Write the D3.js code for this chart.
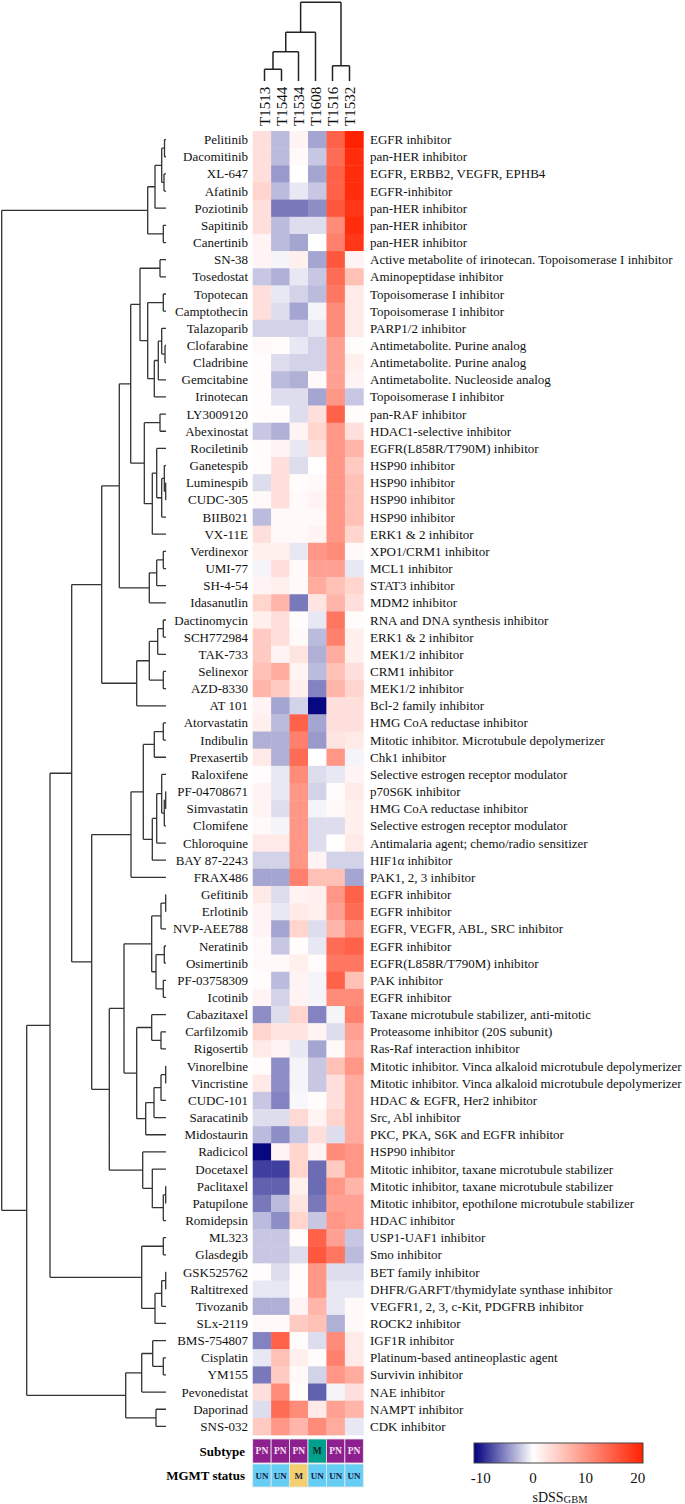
<!DOCTYPE html>
<html><head><meta charset="utf-8">
<script src="https://cdn.jsdelivr.net/npm/d3@7"></script>
<style>body{margin:0;background:#fff} text{font-family:"Liberation Serif","Times New Roman",serif}</style>
</head><body><svg id="c" width="685" height="1504"></svg>
<script>
const samples = ["T1513","T1544","T1534","T1608","T1516","T1532"];
const drugs = ["Pelitinib","Dacomitinib","XL-647","Afatinib","Poziotinib","Sapitinib","Canertinib","SN-38","Tosedostat","Topotecan","Camptothecin","Talazoparib","Clofarabine","Cladribine","Gemcitabine","Irinotecan","LY3009120","Abexinostat","Rociletinib","Ganetespib","Luminespib","CUDC-305","BIIB021","VX-11E","Verdinexor","UMI-77","SH-4-54","Idasanutlin","Dactinomycin","SCH772984","TAK-733","Selinexor","AZD-8330","AT 101","Atorvastatin","Indibulin","Prexasertib","Raloxifene","PF-04708671","Simvastatin","Clomifene","Chloroquine","BAY 87-2243","FRAX486","Gefitinib","Erlotinib","NVP-AEE788","Neratinib","Osimertinib","PF-03758309","Icotinib","Cabazitaxel","Carfilzomib","Rigosertib","Vinorelbine","Vincristine","CUDC-101","Saracatinib","Midostaurin","Radicicol","Docetaxel","Paclitaxel","Patupilone","Romidepsin","ML323","Glasdegib","GSK525762","Raltitrexed","Tivozanib","SLx-2119","BMS-754807","Cisplatin","YM155","Pevonedistat","Daporinad","SNS-032"];
const mechanisms = ["EGFR inhibitor","pan-HER inhibitor","EGFR, ERBB2, VEGFR, EPHB4","EGFR-inhibitor","pan-HER inhibitor","pan-HER inhibitor","pan-HER inhibitor","Active metabolite of irinotecan. Topoisomerase I inhibitor","Aminopeptidase inhibitor","Topoisomerase I inhibitor","Topoisomerase I inhibitor","PARP1/2 inhibitor","Antimetabolite. Purine analog","Antimetabolite. Purine analog","Antimetabolite. Nucleoside analog","Topoisomerase I inhibitor","pan-RAF inhibitor","HDAC1-selective inhibitor","EGFR(L858R/T790M) inhibitor","HSP90 inhibitor","HSP90 inhibitor","HSP90 inhibitor","HSP90 inhibitor","ERK1 & 2 inhibitor","XPO1/CRM1 inhibitor","MCL1 inhibitor","STAT3 inhibitor","MDM2 inhibitor","RNA and DNA synthesis inhibitor","ERK1 & 2 inhibitor","MEK1/2 inhibitor","CRM1 inhibitor","MEK1/2 inhibitor","Bcl-2 family inhibitor","HMG CoA reductase inhibitor","Mitotic inhibitor. Microtubule depolymerizer","Chk1 inhibitor","Selective estrogen receptor modulator","p70S6K inhibitor","HMG CoA reductase inhibitor","Selective estrogen receptor modulator","Antimalaria agent; chemo/radio sensitizer","HIF1α inhibitor","PAK1, 2, 3 inhibitor","EGFR inhibitor","EGFR inhibitor","EGFR, VEGFR, ABL, SRC inhibitor","EGFR inhibitor","EGFR(L858R/T790M) inhibitor","PAK inhibitor","EGFR inhibitor","Taxane microtubule stabilizer, anti-mitotic","Proteasome inhibitor (20S subunit)","Ras-Raf interaction inhibitor","Mitotic inhibitor. Vinca alkaloid microtubule depolymerizer","Mitotic inhibitor. Vinca alkaloid microtubule depolymerizer","HDAC & EGFR, Her2 inhibitor","Src, Abl inhibitor","PKC, PKA, S6K and EGFR inhibitor","HSP90 inhibitor","Mitotic inhibitor, taxane microtubule stabilizer","Mitotic inhibitor, taxane microtubule stabilizer","Mitotic inhibitor, epothilone microtubule stabilizer","HDAC inhibitor","USP1-UAF1 inhibitor","Smo inhibitor","BET family inhibitor","DHFR/GARFT/thymidylate synthase inhibitor","VEGFR1, 2, 3, c-Kit, PDGFRB inhibitor","ROCK2 inhibitor","IGF1R inhibitor","Platinum-based antineoplastic agent","Survivin inhibitor","NAE inhibitor","NAMPT inhibitor","CDK inhibitor"];

// sDSS values per sample (row order = drugs)
const vT1513 = [3,3,3,4,3,3,1, 1,-2.5,3,3,-2,0.5,0.3,0.3,0.3, 0.3,-2.5,0.3,0.3,-1.5,0.5,-3,3, 1.5,-0.5,1,4, 1.5,5,5,6,7,1, 1.5,-3.5,2,0.3,1,1,0.5,2,-2,-4, 2,1,1,0.5,0.5,0.3,1, -5,4,2,0.3,2,-2.5,-1.5,-3, -11,-8.5,-7,-6,-3, -2.5,-2.5,0.3,-1,-3.5,0.5, -5.5,-1,-6,3,-1.5,5];
const vT1544 = [-3,-3,-4.5,-3,-6,-3,-3, -0.5,-3.5,-1,-1.5,-2,0.3,-1.5,-3,-1.5, 0.3,-3.5,1,3,3,3,0.5,0.5, 1.5,3,1.5,7, 3,3,1,8,5,-4, -3,-3.5,-3.5,-1,-1,-1.5,-0.5,2,-2,-4, -1.5,-1,-4,-2.5,0.5,-3,-2, -1.5,2.5,1,-5,-5,-5.5,-1.5,-5, 1,-8.5,-7,-3,-5, -2.5,-2.5,-1.5,-1,-3.5,0.5, 15,6,5,11,14,10];
const vT1534 = [1,0.5,0,-1,-6,-1.5,-4, 1.5,-1,-2,-4,-2,-1,-2,-3.5,-1.5, -1.5,1,-1,-1.5,0.3,0.5,0.5,0.5, -1,0.5,0.5,-6, 0.3,0.5,2.5,1,1.5,-2, 15,12,14,11,10,10,10,10,10,12, 1,2,4,0.3,1.5,1,1, 4,2.5,-1,-0.5,-0.5,-0.3,3.5,-2.5, 4,4,1.5,2.5,4, 0.3,-1.5,0.3,0.3,1,5, 0.3,1.5,0.5,0.3,11,7];
const vT1608 = [-4,-2.5,-4,-2.5,-5,-1.5,0, -4,-2.5,-3,-0.5,-1,-2,-2,0.5,-4, 3,4,3,0,0.5,1,0.5,1, 10,9,8,2.5, -1,-3,-3.5,-3,-5.5,-11, -4,-4.5,0,-1.5,-2,-0.5,-1.5,-1.5,1,6, 1.5,1.5,-1.5,-1,0.3,-0.5,-0.5, -5.5,1,-4,-2.5,-2.5,0.3,1,3, 1,-6.5,-6.5,-6,-2.5, 15,16,10,10,7,6, -1.5,0.3,-2,-7,2,11];
const vT1516 = [15,14,15,15,16,11,12, 16,14,13,11,11,9,9,9,10, 15,10,10,10,10,10,10,10, 11,9,6,7, 13,12,8,6,7,3, 3,2.5,10,-1,0.3,0.5,-1.5,0,-2,6, 10,9,7,14,13,15,11, -0.5,-1.5,0.5,6,3,3,4,-1.5, 11,5,10,9,10, 9,13,-1.5,-1,-1,-3.5, 11,12,10,-0.5,9,8];
const vT1532 = [21,20,20,20,19,20,19, 1,6,2,2,2,0.3,1.5,1,-2.5, 0.3,3,7,5,6,6,6,4, 0.5,-1,4,3, 0.3,1.5,1.5,3,4,3, 3,2,-0.5,1,2,1.5,1.5,2,-2,-4, 15,14,11,15,13,6,11, 12,9,8,10,8,8,8,8, 10,10,7,9,9, -2.5,-3,-1.5,-1,0.5,0.5, 2,2,8,3,7,-1];

const subtype = ["PN","PN","PN","M","PN","PN"];
const mgmt = ["UN","UN","M","UN","UN","UN"];
const colorTicks = [-10,0,10,20];

// dendrograms (node value = merge height)
const colTree = "((((T1513,T1544):0.149,T1534):0.372,T1608):0.619,(T1516,T1532):0.194):1";
const rowTree = "(((((Pelitinib,Dacomitinib):1.5,(XL-647,Afatinib):2):4.3,Poziotinib):11,(Sapitinib,Canertinib):2.7):18.3,"
 + "((((((((SN-38,Tosedostat):6,((Topotecan,Camptothecin):2.7,(((Talazoparib,(Clofarabine,Cladribine):1):4.3,Gemcitabine):7.7,Irinotecan):11.7):18.3):26,"
 + "((LY3009120,Abexinostat):6,((Rociletinib,((Ganetespib,(Luminespib,CUDC-305):0.3):1.7,BIIB021):4.3):9.3,VX-11E):13.7):21.7):35.3,"
 + "(((Verdinexor,UMI-77):2.7,SH-4-54):9.3,Idasanutlin):16.7):46.7,"
 + "((((Dactinomycin,SCH772984):2.7,TAK-733):8.3,(Selinexor,AZD-8330):2.7):16.7,AT 101):29.3):64.3,"
 + "(((((Atorvastatin,Indibulin):2.7,Prexasertib):11.7,(((Raloxifene,((PF-04708671,Simvastatin):0.3,Clomifene):1.7):4.3,Chloroquine):9.3,BAY 87-2243):13.7):22.7,FRAX486):35,"
 + "(((((Gefitinib,Erlotinib):0.3,NVP-AEE788):5,((Neratinib,Osimertinib):1.7,(PF-03758309,Icotinib):2.7):10):14.3,"
 + "((Cabazitaxel,(Carfilzomib,Rigosertib):5):14.3,((((Vinorelbine,Vincristine):0.3,CUDC-101):5,Saracatinib):12,Midostaurin):20.3):29.3):42,"
 + "(Radicicol,(Docetaxel,((Paclitaxel,Patupilone):0.3,Romidepsin):2.7):13.7):23.3):56.7):74.3):94.3,"
 + "((ML323,Glasdegib):2.7,(((GSK525762,Raltitrexed):0.3,Tivozanib):4.3,SLx-2119):11):24.3):116,"
 + "(((BMS-754807,(Cisplatin,YM155):2.7):13.3,Pevonedistat):24.3,(Daporinad,SNS-032):10):40.3):139.3):164.3";

const values = [vT1513,vT1544,vT1534,vT1608,vT1516,vT1532];

function parseTree(s){
  let i=0;
  function node(){
    if(s[i]==='('){
      i++; const kids=[node()];
      while(s[i]===','){i++; kids.push(node());}
      i++;
      let h=0;
      if(s[i]===':'){i++; const j=i; while(i<s.length && /[0-9.]/.test(s[i])) i++; h=+s.slice(j,i);}
      return {children:kids,height:h};
    }
    const j=i; while(i<s.length && !/[,():]/.test(s[i])) i++;
    return {name:s.slice(j,i).trim(),height:0};
  }
  return node();
}

const svg = d3.select("#c");
const font = '"Liberation Serif","Times New Roman",serif';

// scales
const x = d3.scaleBand().domain(samples).range([252.7,363.3]);
const y = d3.scaleBand().domain(drugs).range([131,1435]);
const color = d3.scaleLinear().domain([-11.3,0,21]).range(["#00007f","#ffffff","#ff2200"]).clamp(true);

// heatmap
const cells = [];
samples.forEach((s,ci)=>drugs.forEach((d,ri)=>cells.push({s,d,v:values[ci][ri]})));
svg.append("g").selectAll("rect").data(cells).join("rect")
  .attr("x",d=>x(d.s)).attr("y",d=>y(d.d))
  .attr("width",x.bandwidth()+0.4).attr("height",y.bandwidth()+0.4)
  .attr("fill",d=>color(d.v));

// row labels
svg.append("g").selectAll("text").data(drugs).join("text")
  .attr("x",248).attr("y",d=>y(d)+y.bandwidth()/2).attr("dy","0.35em")
  .attr("text-anchor","end").attr("font-size",13).attr("fill","#111").text(d=>d);
svg.append("g").selectAll("text").data(drugs).join("text")
  .attr("x",370).attr("y",d=>y(d)+y.bandwidth()/2).attr("dy","0.35em")
  .attr("font-size",13).attr("fill","#111").text((d,i)=>mechanisms[i]);

// row dendrogram
const rroot = d3.hierarchy(parseTree(rowTree));
const hx = d3.scaleLinear().domain([0,164.3]).range([166,1.7]);
rroot.eachAfter(n=>{ n.pos = n.children ? d3.mean(n.children,c=>c.pos) : y(n.data.name)+y.bandwidth()/2; });
let rp = "";
rroot.each(n=>{
  if(!n.children) return;
  const nx = hx(n.data.height);
  const ys = n.children.map(c=>c.pos);
  rp += `M${nx},${d3.min(ys)}V${d3.max(ys)}`;
  n.children.forEach(c=>{ rp += `M${hx(c.data.height)},${c.pos}H${nx}`; });
});
svg.append("path").attr("d",rp).attr("fill","none").attr("stroke","#333").attr("stroke-width",1.3);

// column dendrogram
const croot = d3.hierarchy(parseTree(colTree));
const cx = d3.scalePoint().domain(samples).range([264.5,349.5]);
const vy = d3.scaleLinear().domain([0,1]).range([81,2.3]);
croot.eachAfter(n=>{ n.pos = n.children ? d3.mean(n.children,c=>c.pos) : cx(n.data.name); });
let cp = "";
croot.each(n=>{
  if(!n.children) return;
  const ny = vy(n.data.height);
  const xs = n.children.map(c=>c.pos);
  cp += `M${d3.min(xs)},${ny}H${d3.max(xs)}`;
  n.children.forEach(c=>{ cp += `M${c.pos},${vy(c.data.height)}V${ny}`; });
});
svg.append("path").attr("d",cp).attr("fill","none").attr("stroke","#222").attr("stroke-width",1.5);

// column labels
svg.append("g").selectAll("text").data(samples).join("text")
  .attr("transform",d=>`translate(${cx(d)},126) rotate(-90)`)
  .attr("dy","0.35em").attr("font-size",15).attr("fill","#111").text(d=>d);

// annotations
const subColor = {PN:"#8e1f8f", M:"#00a08c"};
const subText = {PN:"#f5e0f0", M:"#102020"};
const mgColor = {UN:"#66cdf4", M:"#f4cf70"};
const annY1 = 1439, annH1 = 24, annY2 = 1464, annH2 = 23;
const ga = svg.append("g");
ga.selectAll("rect.s").data(samples).join("rect").attr("class","s")
  .attr("x",d=>x(d)).attr("y",annY1).attr("width",x.bandwidth()).attr("height",annH1)
  .attr("fill",(d,i)=>subColor[subtype[i]]).attr("stroke","#e6e6e6").attr("stroke-width",0.8);
ga.selectAll("text.s").data(samples).join("text").attr("class","s")
  .attr("x",d=>x(d)+x.bandwidth()/2).attr("y",annY1+annH1/2).attr("dy","0.35em")
  .attr("text-anchor","middle").attr("font-size",9.5).attr("font-weight","bold")
  .attr("fill",(d,i)=>subText[subtype[i]]).text((d,i)=>subtype[i]);
ga.selectAll("rect.m").data(samples).join("rect").attr("class","m")
  .attr("x",d=>x(d)).attr("y",annY2).attr("width",x.bandwidth()).attr("height",annH2)
  .attr("fill",(d,i)=>mgColor[mgmt[i]]).attr("stroke","#e6e6e6").attr("stroke-width",0.8);
ga.selectAll("text.m").data(samples).join("text").attr("class","m")
  .attr("x",d=>x(d)+x.bandwidth()/2).attr("y",annY2+annH2/2).attr("dy","0.35em")
  .attr("text-anchor","middle").attr("font-size",9).attr("font-weight","bold")
  .attr("fill","#1a2040").text((d,i)=>mgmt[i]);
ga.append("text").attr("x",245).attr("y",annY1+annH1/2).attr("dy","0.35em").attr("text-anchor","end")
  .attr("font-size",13).attr("font-weight","bold").text("Subtype");
ga.append("text").attr("x",245).attr("y",annY2+annH2/2).attr("dy","0.35em").attr("text-anchor","end")
  .attr("font-size",13).attr("font-weight","bold").text("MGMT status");

// colour bar
const lx = d3.scaleLinear().domain([-11.3,21]).range([474,643]);
const defs = svg.append("defs");
const grad = defs.append("linearGradient").attr("id","g1");
d3.range(0,1.0001,0.05).forEach(t=>{
  const v = -11.3 + t*32.3;
  grad.append("stop").attr("offset",t).attr("stop-color",color(v));
});
svg.append("rect").attr("x",474).attr("y",1443).attr("width",169).attr("height",20)
  .attr("fill","url(#g1)").attr("stroke","#444").attr("stroke-width",1);
svg.append("g").selectAll("text").data(colorTicks).join("text")
  .attr("x",d=>lx(d)).attr("y",1483).attr("text-anchor","middle")
  .attr("font-size",15).attr("fill","#111").text(d=>d<0?"-"+Math.abs(d):d);
const lt = svg.append("text").attr("x",560).attr("y",1502).attr("text-anchor","middle").attr("font-size",14).attr("fill","#111");
lt.append("tspan").text("sDSS");
lt.append("tspan").attr("font-size",10.5).attr("dy",1).text("GBM");
</script></body></html>
